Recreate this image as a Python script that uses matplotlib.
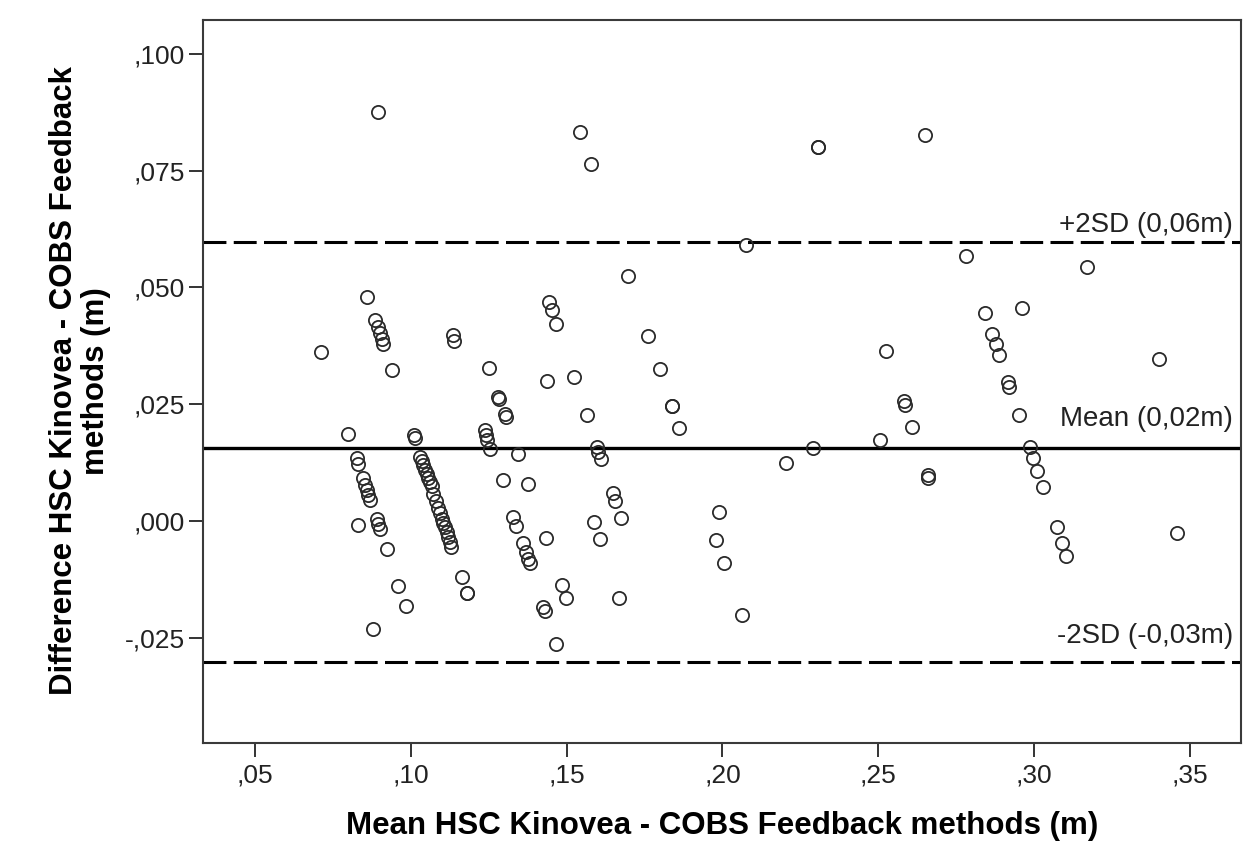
import matplotlib
matplotlib.use("Agg")
import matplotlib.pyplot as plt

# Bland-Altman data: mean of the two methods (x) and their difference (y), in metres
mean_m = [
    0.0894, 0.0860, 0.0885, 0.0895, 0.0901, 0.0908, 0.0912, 0.0711, 0.0941,
    0.1134, 0.1139, 0.1251, 0.1543, 0.1577, 0.2305, 0.2307, 0.2076, 0.1698,
    0.1443, 0.1452, 0.1466, 0.1762, 0.1798, 0.1437, 0.1523, 0.2651, 0.2780,
    0.3170, 0.2841, 0.2961, 0.2864, 0.2878, 0.2888, 0.2525, 0.3402, 0.2917,
    0.2921, 0.2950, 0.2987, 0.2998, 0.3009, 0.3030, 0.3073, 0.3089, 0.3103,
    0.3458, 0.2581, 0.2586, 0.2607, 0.2506, 0.2661, 0.2661, 0.2292, 0.2204,
    0.1990, 0.1979, 0.2005, 0.2062, 0.1281, 0.1284, 0.1302, 0.1305, 0.1565,
    0.1837, 0.1838, 0.1861, 0.1597, 0.1600, 0.1610, 0.1343, 0.1295, 0.1375,
    0.1648, 0.1655, 0.1674, 0.1329, 0.1338, 0.1589, 0.1607, 0.1434, 0.1361,
    0.1370, 0.1377, 0.1381, 0.1484, 0.1498, 0.1425, 0.1431, 0.1466, 0.1669,
    0.1238, 0.1240, 0.1245, 0.1254, 0.0799, 0.1011, 0.1013, 0.0826, 0.0832,
    0.0846, 0.0853, 0.0858, 0.0864, 0.0869, 0.0832, 0.0891, 0.0896, 0.0901,
    0.0923, 0.0960, 0.0984, 0.0880,
    0.1030, 0.1035, 0.1040, 0.1046, 0.1051, 0.1056, 0.1062, 0.1067, 0.1072,
    0.1081, 0.1088, 0.1094, 0.1099, 0.1104, 0.1110, 0.1115, 0.1120, 0.1126,
    0.1128, 0.1163, 0.1179, 0.1180,
]
diff_m = [
    0.0875, 0.0480, 0.0430, 0.0415, 0.0402, 0.0389, 0.0378, 0.0361, 0.0323,
    0.0398, 0.0385, 0.0327, 0.0833, 0.0764, 0.0802, 0.0800, 0.0591, 0.0524,
    0.0468, 0.0451, 0.0421, 0.0396, 0.0326, 0.0300, 0.0309, 0.0826, 0.0568,
    0.0544, 0.0446, 0.0455, 0.0400, 0.0378, 0.0355, 0.0364, 0.0346, 0.0297,
    0.0286, 0.0226, 0.0159, 0.0134, 0.0107, 0.0072, -0.0013, -0.0048, -0.0076,
    -0.0027, 0.0257, 0.0248, 0.0201, 0.0174, 0.0098, 0.0091, 0.0157, 0.0123,
    0.0018, -0.0041, -0.0090, -0.0202, 0.0266, 0.0260, 0.0229, 0.0222, 0.0226,
    0.0246, 0.0245, 0.0198, 0.0159, 0.0148, 0.0132, 0.0144, 0.0087, 0.0080,
    0.0060, 0.0043, 0.0007, 0.0009, -0.0011, -0.0002, -0.0038, -0.0036, -0.0048,
    -0.0066, -0.0081, -0.0091, -0.0138, -0.0165, -0.0184, -0.0193, -0.0264, -0.0165,
    0.0194, 0.0184, 0.0173, 0.0153, 0.0186, 0.0184, 0.0177, 0.0134, 0.0121,
    0.0091, 0.0077, 0.0066, 0.0055, 0.0044, -0.0009, 0.0005, -0.0006, -0.0018,
    -0.0061, -0.0139, -0.0183, -0.0231,
    0.0136, 0.0128, 0.0119, 0.0110, 0.0100, 0.0091, 0.0083, 0.0074, 0.0057,
    0.0042, 0.0027, 0.0016, 0.0005, -0.0005, -0.0013, -0.0024, -0.0034, -0.0045,
    -0.0056, -0.0121, -0.0154, -0.0155,
]

# limits of agreement
mean_diff = 0.0156
upper_loa = 0.0598
lower_loa = -0.0302
line_labels = ["+2SD (0,06m)", "Mean (0,02m)", "-2SD (-0,03m)"]

xticks = [0.05, 0.10, 0.15, 0.20, 0.25, 0.30, 0.35]
xtick_labels = [",05", ",10", ",15", ",20", ",25", ",30", ",35"]
yticks = [-0.025, 0.0, 0.025, 0.05, 0.075, 0.100]
ytick_labels = ["-,025", ",000", ",025", ",050", ",075", ",100"]

plt.rcParams['font.family'] = ['Liberation Sans', 'DejaVu Sans']

fig = plt.figure(figsize=(12.48, 8.59), dpi=100)
ax = fig.add_axes([0.1624, 0.135, 0.832, 0.8417])

ax.plot(mean_m, diff_m, linestyle='none', marker='o', markersize=9.5,
        markerfacecolor='none', markeredgecolor='#2a2a2a', markeredgewidth=1.3,
        zorder=3)

ax.axhline(mean_diff, color='black', lw=2.4, zorder=2)
for yv in (upper_loa, lower_loa):
    ax.axhline(yv, color='black', lw=2.2, linestyle=(0, (7.5, 2.4)), zorder=2)

ax.set_xlim(0.0332, 0.3664)
ax.set_ylim(-0.0476, 0.1073)

ax.set_xticks(xticks)
ax.set_xticklabels(xtick_labels)
ax.set_yticks(yticks)
ax.set_yticklabels(ytick_labels)
ax.tick_params(axis='both', direction='out', length=10, width=1.4,
               color='#333333', labelsize=19, labelcolor='#222222')
ax.tick_params(axis='x', pad=5)
ax.tick_params(axis='y', pad=3)

for side in ax.spines.values():
    side.set_color('#3a3a3a')
    side.set_linewidth(1.5)

# line annotations, right aligned just above each line
label_y = [0.0619, 0.0203, -0.0262]
for txt, yv in zip(line_labels, label_y):
    ax.text(0.9923, yv, txt, transform=ax.get_yaxis_transform(),
            ha='right', va='baseline', fontsize=20, color='#222222')

fig.text(722 / 1248, 1 - 826 / 859, "Mean HSC Kinovea - COBS Feedback methods (m)",
         ha='center', va='center', fontsize=22.5, fontweight='bold')
fig.text(80 / 1248, 1 - 381 / 859, "Difference HSC Kinovea - COBS Feedback\nmethods (m)",
         ha='center', va='center', rotation=90, fontsize=22.5, fontweight='bold',
         multialignment='center', linespacing=1.05)

fig.savefig("out.png", dpi=100)
